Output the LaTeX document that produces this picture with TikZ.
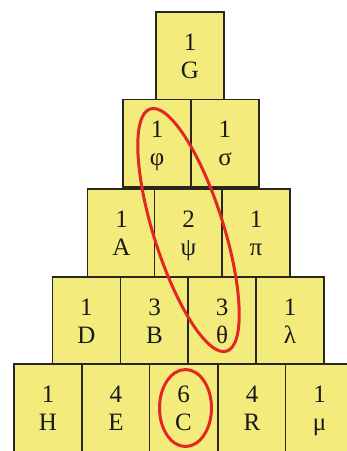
\documentclass[tikz,border=0pt]{standalone}
\usepackage{fontspec}
\setmainfont{Liberation Serif}
\definecolor{boxfill}{RGB}{243,236,125}
\definecolor{boxline}{RGB}{40,38,30}
\definecolor{ringred}{RGB}{226,40,36}
\newcommand\twoline[2]{\rule{0pt}{22.9pt}#1\\\rule[-6pt]{0pt}{6pt}#2}
\begin{document}
\begin{tikzpicture}[x=1pt,y=-1pt,
  cell/.style={draw=boxline, line width=1.3pt, fill=boxfill, anchor=north west,
    minimum width=68pt, minimum height=87.5pt, inner sep=0pt, outer sep=0pt,
    align=center, text=black!90, font=\fontsize{25}{28}\selectfont},
  ring/.style={draw=ringred, line width=3pt}]
\clip (0,0) rectangle (347,451);
\fill[white] (0,0) rectangle (347,451);
% row 1
\node[cell] (G) at (156,12) {\twoline{1}{G}};
% row 2
\node[cell] (phi) at (123,99.5) {\twoline{1}{φ}};
\node[cell] (sigma) at (191,99.5) {\twoline{1}{σ}};
% row 3
\node[cell] (A) at (87.5,189) {\twoline{1}{A}};
\node[cell] (psi) at (154.5,189) {\twoline{2}{ψ}};
\node[cell] (pi) at (222,189) {\twoline{1}{π}};
% row 4
\node[cell] (D) at (52.5,277) {\twoline{1}{D}};
\node[cell] (B) at (120.5,277) {\twoline{3}{B}};
\node[cell] (theta) at (188,277) {\twoline{3}{θ}};
\node[cell] (lambda) at (256,277) {\twoline{1}{λ}};
% row 5
\node[cell] (H) at (14,364) {\twoline{1}{H}};
\node[cell] (E) at (82,364) {\twoline{4}{E}};
\node[cell] (C) at (149.5,364) {\twoline{6}{C}};
\node[cell] (R) at (218,364) {\twoline{4}{R}};
\node[cell] (mu) at (285.5,364) {\twoline{1}{μ}};
% red rings
\draw[ring, rotate around={-72.5:(188.5,230)}] (188.5,230) ellipse [x radius=127pt, y radius=35pt];
\draw[ring] (185.5,408) ellipse [x radius=26pt, y radius=38.5pt];
\end{tikzpicture}
\end{document}
